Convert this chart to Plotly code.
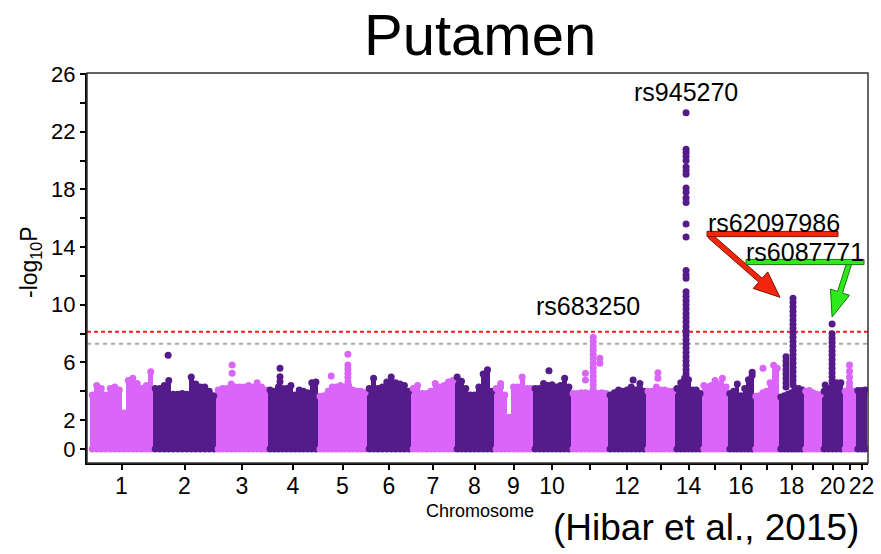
import math
import plotly.graph_objects as go

# ---------------- data ----------------
title_text = "Putamen"
chrom_names = [str(i) for i in range(1, 23)]
chrom_labelled = ["1", "2", "3", "4", "5", "6", "7", "8", "9", "10", "12", "14", "16", "18", "20", "22"]
# relative chromosome extents (scaled genomic length)
chrom_len = [63, 63, 52, 50, 49, 44, 44, 39, 39, 38, 37, 38, 29, 27, 26, 26, 25, 25, 18, 21, 13, 11]

# upper envelope of the dense SNP cloud (-log10 P), sampled evenly along each chromosome
env_chr1 = [3.75, 4.4, 4.2, 3.75, 4.2, 4.3, 4.1, 2.5, 4.75, 4.9, 4.55, 4.2, 4.4, 5.35]
env_chr2 = [4.2, 4.2, 4.4, 4.75, 3.8, 3.8, 3.85, 3.8, 5.0, 4.5, 4.3, 4.3, 4.0, 3.7]
env_chr3 = [4.1, 4.2, 4.2, 4.5, 4.3, 4.3, 4.3, 4.4, 4.3, 4.6, 4.3, 4.1]
env_chr4 = [4.1, 4.0, 4.3, 4.2, 4.2, 4.4, 3.75, 4.1, 4.0, 3.9, 4.6, 4.65]
env_chr5 = [3.65, 3.7, 4.0, 4.3, 4.3, 4.4, 4.3, 4.4, 4.1, 4.0, 4.0, 3.9]
env_chr6 = [4.2, 4.9, 4.2, 4.3, 4.65, 5.0, 4.6, 4.5, 4.4, 4.0]
env_chr7 = [4.2, 4.4, 3.85, 3.85, 4.0, 4.55, 4.3, 4.4, 4.65, 4.75]
env_chr8 = [5.0, 4.7, 4.2, 3.75, 3.75, 4.3, 5.2, 5.5, 4.0]
env_chr9 = [4.2, 4.3, 3.75, 2.2, 4.3, 4.3, 5.0, 4.2, 4.2]
env_chr10 = [4.2, 4.2, 4.55, 4.4, 4.45, 4.3, 4.4, 4.9, 4.3]
env_chr11 = [3.85, 3.85, 3.9, 3.9, 3.85, 3.9, 3.85, 3.9, 3.85]
env_chr12 = [3.75, 3.9, 4.1, 4.0, 4.1, 4.3, 4.1, 4.2, 4.0]
env_chr13 = [4.0, 4.0, 4.3, 4.1, 4.1, 4.0, 4.0]
env_chr14 = [4.2, 4.6, 4.9, 4.8, 4.1, 4.1, 3.85]
env_chr15 = [4.4, 4.3, 4.4, 4.75, 4.5, 4.9, 4.3]
env_chr16 = [3.85, 4.0, 4.5, 3.7, 4.2, 4.8, 5.1]
env_chr17 = [3.65, 3.7, 3.9, 4.0, 4.6, 5.8, 5.6]
env_chr18 = [3.6, 3.7, 3.8, 3.9, 4.2, 4.2, 4.1]
env_chr19 = [4.0, 4.05, 3.9, 3.8, 3.75]
env_chr20 = [4.0, 4.2, 4.5, 4.6, 4.6]
env_chr21 = [4.0, 4.3, 4.0]
env_chr22 = [4.05, 4.05, 4.1]
envelopes = [env_chr1, env_chr2, env_chr3, env_chr4, env_chr5, env_chr6, env_chr7, env_chr8,
             env_chr9, env_chr10, env_chr11, env_chr12, env_chr13, env_chr14, env_chr15,
             env_chr16, env_chr17, env_chr18, env_chr19, env_chr20, env_chr21, env_chr22]

# individual SNPs standing above the cloud
peak_chr14 = [23.32, 20.78, 20.55, 20.3, 20.0, 19.55, 19.3, 19.05, 18.1, 17.8, 17.4, 17.1, 15.6, 14.7,
              12.37, 12.07, 11.84, 10.9, 10.6, 10.3, 10.0, 9.7, 9.4, 9.1, 8.8, 8.5, 8.2, 7.9, 7.6,
              7.3, 7.0, 6.7, 6.4, 6.1, 5.8, 5.5, 5.2, 4.9]
peak_chr18 = [10.45, 10.15, 9.85, 9.55, 9.25, 8.95, 8.65, 8.35, 8.05, 7.75, 7.45, 7.15, 6.85, 6.55,
              6.25, 5.95, 5.65, 5.35, 5.05, 4.75, 4.45]
peak_chr18b = [6.4, 6.1, 5.8, 5.5, 5.2, 4.9, 4.6, 4.3]
peak_chr20 = [8.67, 8.0, 7.7, 7.4, 7.1, 6.8, 6.5, 6.2, 5.9, 5.6, 5.3, 5.0, 4.7]
peak_chr11 = [7.75, 7.45, 7.15, 6.85, 6.55, 6.25, 5.95, 5.65, 5.35, 5.05, 4.75, 4.45, 4.15]
other_peaks = [  # (chrom, rel. position, -log10 P)
    (2, 0.24, 6.5), (3, 0.31, 5.83), (3, 0.31, 5.25), (4, 0.24, 5.6), (4, 0.24, 5.01), (4, 0.24, 4.67),
    (5, 0.61, 6.57), (5, 0.61, 5.83), (5, 0.61, 5.55), (5, 0.61, 5.25), (5, 0.61, 4.95), (5, 0.61, 4.65),
    (5, 0.27, 5.06), (9, 0.17, 4.55), (10, 0.42, 5.43), (11, 0.78, 6.29), (11, 0.78, 5.94),
    (11, 0.39, 5.25), (11, 0.39, 4.78), (12, 0.66, 4.78), (12, 0.84, 4.55), (13, 0.41, 5.29),
    (13, 0.41, 4.9), (16, 0.93, 5.32), (17, 0.36, 5.6), (20, 0.15, 4.44),
    (21, 0.5, 5.83), (21, 0.5, 5.4), (21, 0.5, 5.0), (21, 0.5, 4.6),
]
peak_columns = [(14, 0.41, peak_chr14), (18, 0.56, peak_chr18), (18, 0.28, peak_chr18b),
                (20, 0.48, peak_chr20), (11, 0.60, peak_chr11)]

thresh_red = 8.13
thresh_gray = 7.30

snp_labels = [("rs945270", 14, 0.41, peak_chr14[0]), ("rs683250", 11, 0.60, peak_chr11[0]),
              ("rs62097986", 18, 0.56, peak_chr18[0]), ("rs6087771", 20, 0.48, peak_chr20[0])]

y_major = [0, 2, 6, 10, 14, 18, 22, 26]
y_minor = [4, 8, 12, 16, 20, 24]

# ---------------- styling / geometry ----------------
PINK = "#DB64FA"
DARK = "#551B8B"
FONT = "Liberation Sans, Arial, sans-serif"
W, H = 881, 554
L_PX, R_PX, T_PX, B_PX = 87, 868, 73, 463

starts = []
acc = 0
for L in chrom_len:
    starts.append(acc)
    acc += L
total = acc
X0, X1 = -3, total + 1
Y0, Y1 = -0.97, 26.07


def px2x(px):
    return X0 + (px - L_PX) / (R_PX - L_PX) * (X1 - X0)


def px2y(py):
    return Y0 + (B_PX - py) / (B_PX - T_PX) * (Y1 - Y0)


def x2px(x):
    return L_PX + (x - X0) / (X1 - X0) * (R_PX - L_PX)


def y2px(y):
    return B_PX - (y - Y0) / (Y1 - Y0) * (B_PX - T_PX)


def pos(chrom, frac):
    return starts[chrom - 1] + frac * chrom_len[chrom - 1]


def col(chrom):
    return PINK if chrom % 2 == 1 else DARK


centers = [s + L / 2 for s, L in zip(starts, chrom_len)]
major_x = [c for c, n in zip(centers, chrom_names) if n in chrom_labelled]
minor_x = [c for c, n in zip(centers, chrom_names) if n not in chrom_labelled]

bx, by, bw, bc = [], [], [], []
for ci, (L, env) in enumerate(zip(chrom_len, envelopes)):
    n = len(env)
    step = L / n
    for i, v in enumerate(env):
        bx.append(starts[ci] + (i + 0.5) * step)
        by.append(v)
        bw.append(step * 1.08)
        bc.append(col(ci + 1))

px_, py_, pc_ = [], [], []
for chrom, frac, vals in peak_columns:
    for v in vals:
        px_.append(pos(chrom, frac)); py_.append(v); pc_.append(col(chrom))
for chrom, frac, v in other_peaks:
    px_.append(pos(chrom, frac)); py_.append(v); pc_.append(col(chrom))

fig = go.Figure()
fig.add_trace(go.Bar(x=bx, y=by, width=bw, marker=dict(color=bc, line=dict(width=0)),
                     hoverinfo="skip", showlegend=False))
fig.add_trace(go.Scatter(x=bx, y=by, mode="markers", marker=dict(size=7, color=bc, line=dict(width=0)),
                         hoverinfo="skip", showlegend=False))
fig.add_trace(go.Scatter(x=bx, y=[0] * len(bx), mode="markers",
                         marker=dict(size=7, color=bc, line=dict(width=0)),
                         hoverinfo="skip", showlegend=False))
fig.add_trace(go.Scatter(x=px_, y=py_, mode="markers", marker=dict(size=7, color=pc_, line=dict(width=0)),
                         hoverinfo="skip", showlegend=False))

shapes = []
shapes.append(dict(type="line", xref="paper", x0=0, x1=1, yref="y", y0=thresh_red, y1=thresh_red,
                   line=dict(color="#FF1A1A", width=2, dash="4px,3px"), layer="below"))
shapes.append(dict(type="line", xref="paper", x0=0, x1=1, yref="y", y0=thresh_gray, y1=thresh_gray,
                   line=dict(color="#A8A8A8", width=2, dash="4px,4px"), layer="below"))
shapes.append(dict(type="rect", xref="paper", yref="paper", x0=0, x1=1, y0=0, y1=1,
                   line=dict(color="#333333", width=1.5)))


def arrow_path(sx, sy, tx, ty, hw=2.6, hl=26, hh=11):
    dx, dy = tx - sx, ty - sy
    d = math.hypot(dx, dy)
    ux, uy = dx / d, dy / d
    nx, ny = -uy, ux
    bxp, byp = tx - ux * hl, ty - uy * hl
    pts = [(sx + nx * hw, sy + ny * hw), (bxp + nx * hw, byp + ny * hw), (bxp + nx * hh, byp + ny * hh),
           (tx, ty), (bxp - nx * hh, byp - ny * hh), (bxp - nx * hw, byp - ny * hw),
           (sx - nx * hw, sy - ny * hw)]
    return "M " + " L ".join(f"{px2x(a):.3f},{px2y(b):.3f}" for a, b in pts) + " Z"


def hbar_path(x0p, x1p, yc, hw=2.6):
    pts = [(x0p, yc - hw), (x1p, yc - hw), (x1p, yc + hw), (x0p, yc + hw)]
    return "M " + " L ".join(f"{px2x(a):.3f},{px2y(b):.3f}" for a, b in pts) + " Z"


r_tip_x = x2px(pos(18, 0.56)) - 13
r_tip_y = y2px(peak_chr18[0]) - 1
shapes.append(dict(type="path", path=arrow_path(710, 236, r_tip_x, r_tip_y), fillcolor="#F2260C",
                   line=dict(color="#7A1500", width=1)))
shapes.append(dict(type="path", path=hbar_path(707, 838, 234), fillcolor="#F2260C",
                   line=dict(color="#7A1500", width=1)))
g_tip_x = x2px(pos(20, 0.48))
g_tip_y = y2px(peak_chr20[0]) - 7
shapes.append(dict(type="path", path=arrow_path(849, 264, g_tip_x, g_tip_y, hl=26, hh=10), fillcolor="#2EEA1A",
                   line=dict(color="#157A0A", width=1)))
shapes.append(dict(type="path", path=hbar_path(746, 864, 262), fillcolor="#2EEA1A",
                   line=dict(color="#157A0A", width=1)))

annotations = []
label_shift = {"rs945270": (0, 21), "rs683250": (-5, 31), "rs62097986": (-19, 75), "rs6087771": (-27, 72)}
for txt, chrom, frac, v in snp_labels:
    xs, ys = label_shift[txt]
    annotations.append(dict(text=txt, x=pos(chrom, frac), y=v, xref="x", yref="y", showarrow=False,
                            xshift=xs, yshift=ys, font=dict(size=25, color="black", family=FONT),
                            xanchor="center", yanchor="middle"))


def paper_x(px):
    return (px - L_PX) / (R_PX - L_PX)


def paper_y(py):
    return (B_PX - py) / (B_PX - T_PX)


annotations.append(dict(text="-log<sub>10</sub>P", x=paper_x(30), y=paper_y(262), xref="paper", yref="paper",
                        showarrow=False, textangle=-90, font=dict(size=23, color="black", family=FONT),
                        xanchor="center", yanchor="middle"))
annotations.append(dict(text="Chromosome", x=paper_x(480), y=paper_y(511), xref="paper", yref="paper",
                        showarrow=False, font=dict(size=18, color="black", family=FONT),
                        xanchor="center", yanchor="middle"))
annotations.append(dict(text="(Hibar et al., 2015)", x=paper_x(706), y=paper_y(527), xref="paper", yref="paper",
                        showarrow=False, font=dict(size=37, color="black", family=FONT),
                        xanchor="center", yanchor="middle"))
annotations.append(dict(text=title_text, x=paper_x(480), y=paper_y(35), xref="paper", yref="paper",
                        showarrow=False, font=dict(size=58, color="black", family=FONT),
                        xanchor="center", yanchor="middle"))

fig.update_layout(
    width=W, height=H,
    margin=dict(l=L_PX, r=W - R_PX, t=T_PX, b=H - B_PX, autoexpand=False),
    paper_bgcolor="white", plot_bgcolor="white",
    barmode="overlay", bargap=0,
    shapes=shapes, annotations=annotations,
    font=dict(family=FONT, color="black"),
    xaxis=dict(range=[X0, X1], tickmode="array", tickvals=major_x, ticktext=chrom_labelled,
               ticks="outside", ticklen=5, tickwidth=1.5, tickcolor="black", ticklabelstandoff=-4,
               minor=dict(tickmode="array", tickvals=minor_x, ticks="outside", ticklen=5, tickwidth=1.5,
                          tickcolor="black", showgrid=False),
               showline=True, linecolor="black", linewidth=2, showgrid=False, zeroline=False,
               automargin=False, tickfont=dict(size=23, family=FONT, color="black")),
    yaxis=dict(range=[Y0, Y1], tickmode="array", tickvals=y_major, ticktext=[str(v) for v in y_major],
               ticks="outside", ticklen=5, tickwidth=1.5, tickcolor="black",
               minor=dict(tickmode="array", tickvals=y_minor, ticks="outside", ticklen=5, tickwidth=1.5,
                          tickcolor="black", showgrid=False),
               showline=True, linecolor="black", linewidth=2,
               showgrid=False, zeroline=False, automargin=False,
               tickfont=dict(size=22, family=FONT, color="black")),
)

fig.write_html("out.html", config={"displayModeBar": False},
               post_script="document.body.style.margin='0';document.body.style.padding='0';")
